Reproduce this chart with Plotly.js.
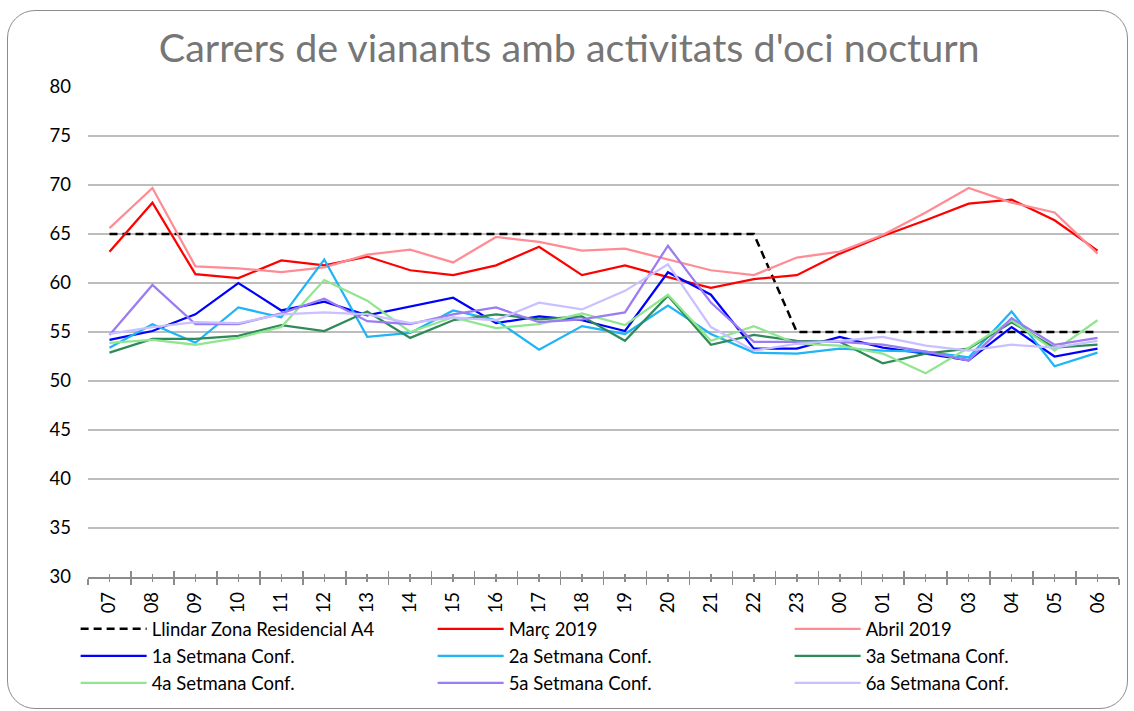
<!DOCTYPE html>
<html>
<head>
<meta charset="utf-8">
<script src="https://cdn.plot.ly/plotly-3.0.1.min.js"></script>
<style>
  html, body { margin: 0; padding: 0; background: #ffffff; }
  #wrap { position: relative; width: 1134px; height: 711px; overflow: hidden; }
  #frame { position: absolute; left: 7px; top: 10px; width: 1121px; height: 699px;
           border: 1.5px solid #8c8c8c; border-radius: 28px; box-sizing: border-box; pointer-events: none; }
  #chart { position: absolute; left: 0; top: 0; width: 1134px; height: 711px; }
</style>
</head>
<body>
<div id="wrap">
  <div id="chart"></div>
  <div id="frame"></div>
</div>
<script>
const hours = ['07','08','09','10','11','12','13','14','15','16','17','18','19','20','21','22','23','00','01','02','03','04','05','06'];

const llindar = [65, 65, 65, 65, 65, 65, 65, 65, 65, 65, 65, 65, 65, 65, 65, 65, 55, 55, 55, 55, 55, 55, 55, 55];
const marc2019 = [63.2, 68.2, 60.9, 60.5, 62.3, 61.8, 62.7, 61.3, 60.8, 61.8, 63.7, 60.8, 61.8, 60.6, 59.5, 60.4, 60.8, 63.0, 64.8, 66.4, 68.1, 68.5, 66.4, 63.3];
const abril2019 = [65.6, 69.7, 61.7, 61.5, 61.1, 61.6, 62.9, 63.4, 62.1, 64.7, 64.2, 63.3, 63.5, 62.4, 61.3, 60.8, 62.6, 63.2, 64.9, 67.2, 69.7, 68.2, 67.2, 63.0];
const setmana1 = [54.2, 55.1, 56.8, 60.0, 57.2, 58.1, 56.7, 57.6, 58.5, 55.9, 56.6, 56.2, 55.1, 61.1, 58.8, 53.3, 53.3, 54.5, 53.4, 52.8, 52.1, 55.5, 52.5, 53.3];
const setmana2 = [53.4, 55.8, 53.9, 57.5, 56.5, 62.4, 54.5, 54.9, 57.2, 56.2, 53.2, 55.6, 54.8, 57.7, 54.8, 52.9, 52.8, 53.3, 53.1, 53.0, 52.4, 57.1, 51.5, 52.9];
const setmana3 = [52.9, 54.3, 54.3, 54.6, 55.7, 55.1, 57.1, 54.4, 56.2, 56.8, 56.3, 56.6, 54.1, 58.7, 53.7, 54.7, 54.1, 54.0, 51.8, 52.8, 53.3, 56.0, 53.4, 53.7];
const setmana4 = [53.9, 54.2, 53.7, 54.4, 55.5, 60.3, 58.2, 55.0, 56.5, 55.4, 55.8, 56.9, 55.7, 58.8, 54.1, 55.6, 53.8, 53.6, 52.8, 50.8, 53.4, 56.2, 53.1, 56.2];
const setmana5 = [54.7, 59.8, 55.8, 55.8, 56.9, 58.4, 56.1, 55.8, 56.8, 57.5, 56.0, 56.3, 57.0, 63.8, 58.0, 54.0, 54.0, 54.0, 53.7, 53.0, 52.1, 56.4, 53.7, 54.4];
const setmana6 = [54.8, 55.5, 56.0, 55.9, 56.8, 57.0, 56.8, 55.9, 56.5, 56.2, 58.0, 57.3, 59.2, 61.9, 55.5, 53.1, 53.8, 54.1, 54.5, 53.6, 53.1, 53.7, 53.4, 54.1];

const seriesNames = ['Llindar Zona Residencial A4', 'Març 2019', 'Abril 2019',
  '1a Setmana Conf.', '2a Setmana Conf.', '3a Setmana Conf.',
  '4a Setmana Conf.', '5a Setmana Conf.', '6a Setmana Conf.'];
const seriesData = [llindar, marc2019, abril2019, setmana1, setmana2, setmana3, setmana4, setmana5, setmana6];
const seriesColors = ['#000000', '#ff0000', '#ff8c94', '#0000ff', '#1eb4f5', '#2e8b57', '#8fe68f', '#9b7cf2', '#c8c0ff'];

const FONT = 'Lato, "Open Sans", sans-serif';

const traces = seriesData.map((vals, i) => ({
  type: 'scatter', mode: 'lines',
  x: hours, y: vals, name: seriesNames[i],
  line: { color: seriesColors[i], width: i === 0 ? 2.5 : 2.25, dash: i === 0 ? '8px,5px' : 'solid' },
  hoverinfo: 'x+y+name'
}));

// tick positions for the cross-style tick marks (boundaries & centres)
const centres = hours.map((h, i) => i);
const bounds = hours.map((h, i) => i - 0.5).concat([hours.length - 0.5]);
const tickAxis = (vals, dir, len) => ({
  overlaying: 'x', anchor: 'y', type: 'linear', range: [-0.5, hours.length - 0.5],
  tickmode: 'array', tickvals: vals, showticklabels: false,
  ticks: dir, ticklen: len, tickwidth: 1.5, tickcolor: '#8c8c8c',
  showgrid: false, zeroline: false, showline: false, fixedrange: true
});

const layout = {
  width: 1134, height: 711,
  paper_bgcolor: 'rgba(0,0,0,0)', plot_bgcolor: 'rgba(0,0,0,0)',
  margin: { l: 88, r: 15, t: 87, b: 134, autoexpand: false },
  font: { family: FONT, color: '#000000', size: 18 },
  title: { text: "Carrers de vianants amb activitats d'oci nocturn",
           font: { family: FONT, size: 39.5, color: '#767676' },
           x: 0.502, xref: 'container', xanchor: 'center',
           y: 1 - 48 / 711, yref: 'container', yanchor: 'middle' },
  xaxis: {
    type: 'category', categoryorder: 'array', categoryarray: hours,
    range: [-0.5, hours.length - 0.5],
    tickson: 'boundaries', ticks: 'outside', ticklen: 6, tickwidth: 1.5, tickcolor: '#8c8c8c',
    showline: true, linecolor: '#8c8c8c', linewidth: 1.5,
    showgrid: false, zeroline: false, tickangle: -90,
    tickfont: { family: FONT, size: 18.5, color: '#000000' },
    ticklabelstandoff: 6, fixedrange: true
  },
  xaxis2: tickAxis(bounds, 'inside', 6),
  xaxis3: tickAxis(centres, 'outside', 3.5),
  xaxis4: tickAxis(centres, 'inside', 3.5),
  yaxis: {
    range: [30, 80], dtick: 5, tick0: 30,
    showgrid: true, gridcolor: '#bdbdbd', gridwidth: 1.5,
    showline: false, zeroline: false, ticks: '',
    tickfont: { family: FONT, size: 18.5, color: '#000000' },
    ticklabelstandoff: 16, fixedrange: true
  },
  showlegend: true,
  legend: {
    orientation: 'h', x: -0.012, xanchor: 'left', y: -0.068, yanchor: 'top',
    entrywidth: 276, entrywidthmode: 'pixels', traceorder: 'normal',
    font: { family: FONT, size: 18.5, color: '#000000' },
    bgcolor: 'rgba(0,0,0,0)', itemwidth: 66
  }
};

// invisible anchor traces so the overlay tick axes are drawn
const helper = ['x2', 'x3', 'x4'].map(ax => ({
  type: 'scatter', mode: 'markers', x: [0], y: [30], xaxis: ax, yaxis: 'y',
  marker: { opacity: 0 }, showlegend: false, hoverinfo: 'skip'
}));

Plotly.newPlot('chart', helper.concat(traces), layout, { displayModeBar: false, staticPlot: true });
</script>
</body>
</html>
